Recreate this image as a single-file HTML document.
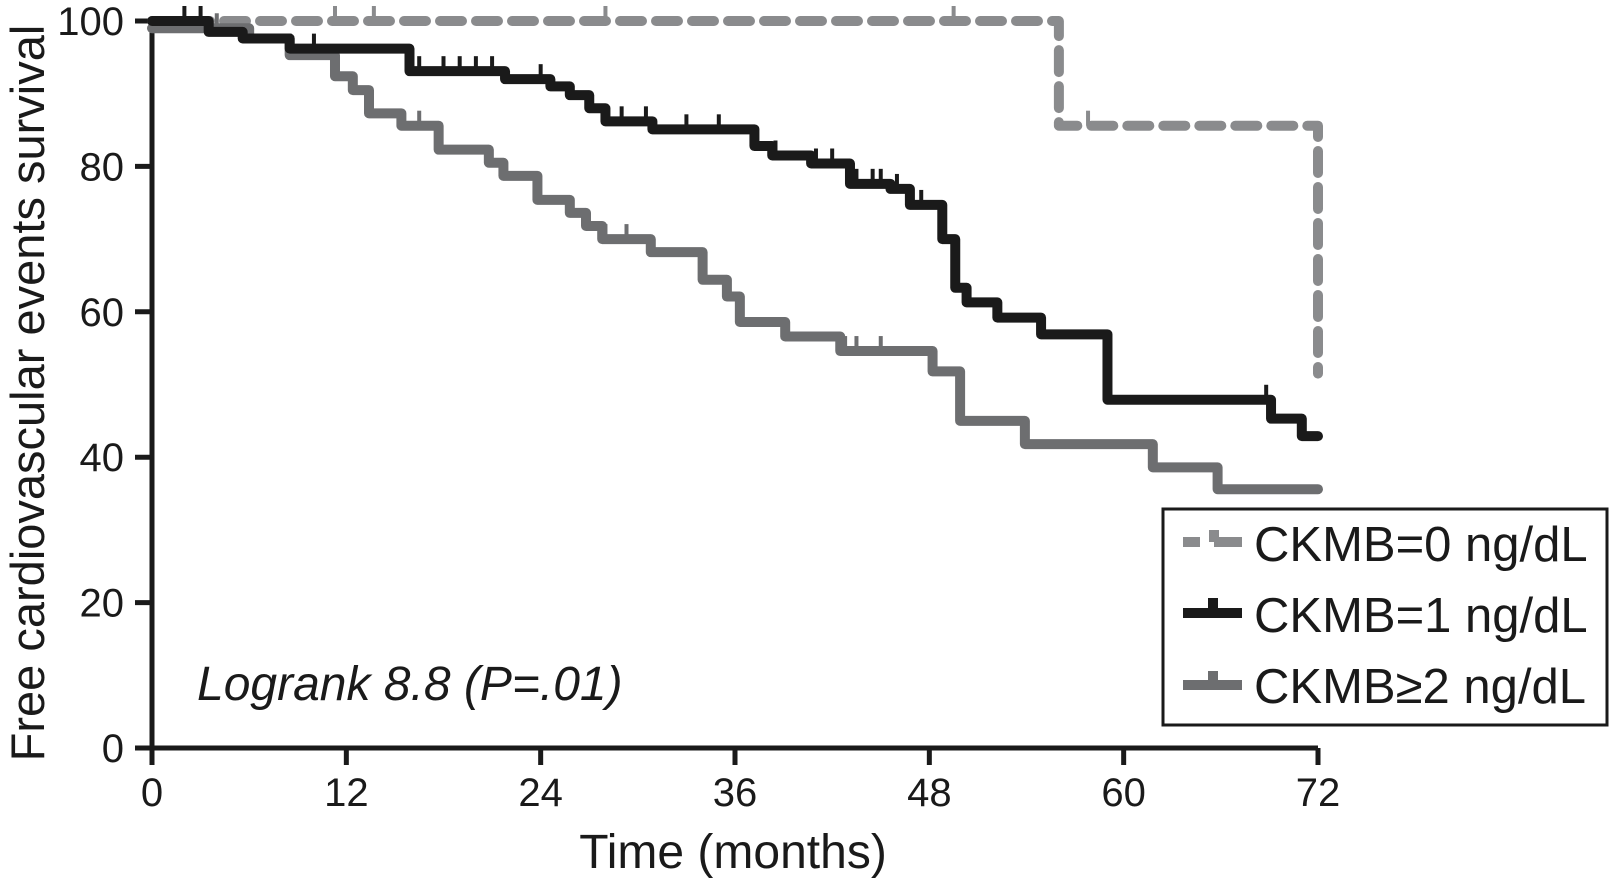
<!DOCTYPE html>
<html><head><meta charset="utf-8"><style>
html,body{margin:0;padding:0;background:#fff;}
svg{display:block;font-family:"Liberation Sans",Arial,sans-serif;}
</style></head><body>
<svg id="chart" width="1610" height="893" viewBox="0 0 1610 893">
<g id="axes"></g>
<g id="series"></g>
<text x="197" y="700" font-size="48" font-style="italic" fill="#1a1a1a">Logrank 8.8 (P=.01)</text>
<text x="733" y="868" font-size="48" text-anchor="middle" fill="#1a1a1a">Time (months)</text>
<text transform="translate(44,393) rotate(-90)" font-size="47" text-anchor="middle" fill="#1a1a1a">Free cardiovascular events survival</text>
<g id="legend">
<rect x="1163" y="509" width="444" height="216" fill="#fff" stroke="#1a1a1a" stroke-width="3"/>
<g>
<path d="M1183 542 H1200 M1214 542 H1242 M1214 542 V530" stroke="#8a8b8d" stroke-width="10" fill="none"/>
<text x="1254" y="561" font-size="49" fill="#1a1a1a">CKMB=0 ng/dL</text></g>
<g>
<path d="M1183 613 H1242 M1213 613 V598" stroke="#1a1a1a" stroke-width="10" fill="none"/>
<text x="1254" y="632" font-size="49" fill="#1a1a1a">CKMB=1 ng/dL</text></g>
<g>
<path d="M1183 685 H1242 M1213 685 V671" stroke="#6d6e70" stroke-width="10" fill="none"/>
<text x="1254" y="703" font-size="49" fill="#1a1a1a">CKMB≥2 ng/dL</text></g>
</g>
</svg>
<script>
const xTicks=[0,12,24,36,48,60,72];
const yTicks=[0,20,40,60,80,100];
// CKMB=0
const s0Times=[0,56.0];
const s0Vals=[100,85.6];
const s0End=72; const s0EndVal=51.5;
const s0Censor=[11.3,13.7,28,49.5,57.8];
// CKMB=1
const s1Times=[0,3.5,5.6,8.5,15.9,21.8,24.6,25.8,27.0,28.0,30.9,37.2,38.3,40.7,43.1,45.6,46.8,48.8,49.6,50.3,52.2,54.9,59.0,69.1,71.0];
const s1Vals=[100,98.5,97.6,96.2,93.1,92.0,91.0,89.8,88.0,86.2,85.1,82.8,81.5,80.4,77.6,76.9,74.7,70.0,63.3,61.3,59.2,56.9,47.9,45.3,42.9];
const s1Censor=[2,3,8.5,10,16.5,18,19,20,21,24,29,30.5,33,35,38.5,41,42,43.5,44.5,45,46,47.5,50.3,68.8];
// CKMB>=2
const s2Times=[0,6.0,8.5,11.3,12.4,13.4,15.4,17.7,20.8,21.7,23.8,25.8,26.8,27.8,30.8,34.0,35.5,36.3,39.1,42.5,48.2,49.9,53.9,61.8,65.8];
const s2Vals=[99.0,97.6,95.3,92.4,90.5,87.3,85.6,82.3,80.5,78.7,75.4,73.6,71.8,70.0,68.2,64.4,62.1,58.6,56.6,54.6,51.8,45.0,41.8,38.6,35.6];
const s2Censor=[4,16.5,28,29.3,42.8,43.5,45,49.9];
const X0=152,X1=1318,Y0=748,Y1=21;
const xs=m=>X0+(m/72)*(X1-X0);
const ys=v=>Y0-(v/100)*(Y0-Y1);
const NS="http://www.w3.org/2000/svg";
function mk(tag,attrs,parent){const e=document.createElementNS(NS,tag);for(const k in attrs)e.setAttribute(k,attrs[k]);parent.appendChild(e);return e;}
const axes=document.getElementById('axes');
let a=mk('path',{d:`M${X0} ${Y1} V${Y0} H${X1}`,stroke:'#1a1a1a','stroke-width':5,fill:'none'},axes);


xTicks.forEach(t=>{
 let l=mk('line',{x1:xs(t),x2:xs(t),y1:Y0,y2:Y0+17,stroke:'#1a1a1a','stroke-width':5},axes);
 
 
 let tx=mk('text',{x:xs(t),y:Y0+58,'font-size':40,'text-anchor':'middle',fill:'#1a1a1a'},axes);
 tx.textContent=t;
 
 
});
yTicks.forEach(t=>{
 let l=mk('line',{x1:X0-17,x2:X0,y1:ys(t),y2:ys(t),stroke:'#1a1a1a','stroke-width':5},axes);
 
 
 let tx=mk('text',{x:124,y:ys(t)+14,'font-size':40,'text-anchor':'end',fill:'#1a1a1a'},axes);
 tx.textContent=t;
 
 
});
const ser=document.getElementById('series');
function stepPath(times,vals,end,endVal){
 let d=`M${xs(times[0])} ${ys(vals[0])}`;
 for(let i=1;i<times.length;i++){d+=` H${xs(times[i])} V${ys(vals[i])}`;}
 d+=` H${xs(end)}`;
 if(endVal!==undefined)d+=` V${ys(endVal)}`;
 return d;}
function valAt(times,vals,t){let v=vals[0];for(let i=0;i<times.length;i++){if(times[i]<=t)v=vals[i];}return v;}
function drawSeries(name,times,vals,end,endVal,cens,color,dash){
 const g=mk('g',{},ser);
 
 
 const p=mk('path',{d:stepPath(times,vals,end,endVal),stroke:color,'stroke-width':10,fill:'none','stroke-linecap':'round','stroke-linejoin':'round'},g);
 if(dash)p.setAttribute('stroke-dasharray',dash);
 
 
 cens.forEach(c=>{
  const v=valAt(times,vals,c);
  const t=mk('line',{x1:xs(c),x2:xs(c),y1:ys(v),y2:ys(v)-15,stroke:color,'stroke-width':4},g);
  
  
 });
}
drawSeries('series-ckmb0',s0Times,s0Vals,s0End,s0EndVal,s0Censor,'#8a8b8d','22 14');
drawSeries('series-ckmb2',s2Times,s2Vals,72,undefined,s2Censor,'#6d6e70');
drawSeries('series-ckmb1',s1Times,s1Vals,72,undefined,s1Censor,'#1a1a1a');
</script>
</body></html>
